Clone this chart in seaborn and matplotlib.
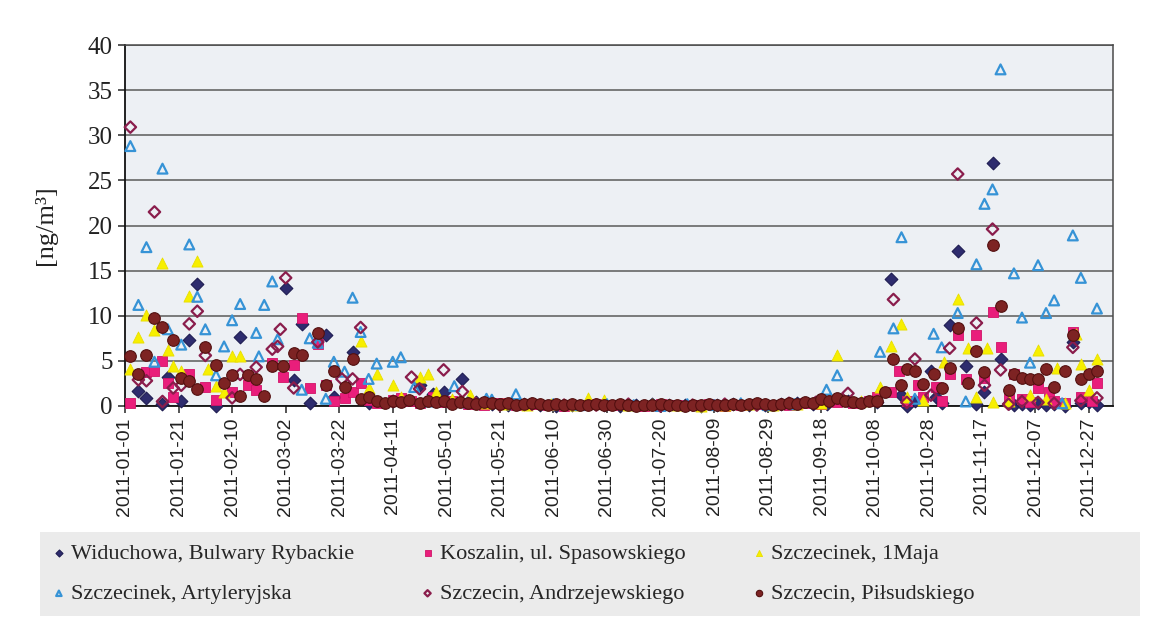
import numpy as np
import pandas as pd
import matplotlib
matplotlib.use("Agg")
import matplotlib.pyplot as plt
from matplotlib.patches import Rectangle
import seaborn as sns

sns.set_theme(style="white")
plt.rcParams["font.family"] = ["Liberation Serif", "DejaVu Serif"]

START = pd.Timestamp("2011-01-01")

# Day offsets from 2011-01-01 and concentrations [ng/m3] for each station
wid_day = [5, 8, 14, 16, 21, 24, 27, 34, 43, 60, 63, 66, 69, 75, 78, 85, 91, 100, 110, 115, 119, 126, 131,
           137, 143, 149, 155, 161, 167, 173, 179, 185, 191, 197, 203, 209, 215, 221, 227, 233, 239, 245, 251, 257,
           262, 270, 281, 286, 290, 292, 295, 301, 303, 305, 308, 311, 314, 318, 321, 324, 327, 330, 332, 335, 338,
           341, 344, 347, 351, 354, 357, 360, 363]
wid_val = [1.7, 0.9, 0.2, 3.2, 0.6, 7.3, 13.5, 0.0, 7.6, 13.1, 2.9, 9.1, 0.3, 7.9, 1.0, 6.0, 0.3, 0.5, 2.3, 1.3, 1.6, 3.0, 0.4,
           0.2, 0.1, 0.2, 0.1, 0.0, 0.1, 0.2, 0.1, 0.0, 0.1, 0.2, 0.1, 0.1, 0.0, 0.1, 0.2, 0.1, 0.1, 0.2, 0.3, 0.2,
           0.2, 0.5, 0.4, 14.1, 1.2, 0.0, 0.6, 3.9, 1.0, 0.3, 9.0, 17.2, 4.4, 0.2, 1.6, 26.9, 5.2, 0.3, 0.1, 0.2, 0.1,
           0.3, 0.1, 0.2, 0.0, 7.1, 0.3, 0.4, 0.1]

kos_day = [2, 8, 11, 14, 16, 18, 24, 30, 34, 40, 46, 49, 55, 59, 63, 66, 69, 72, 75, 78, 82, 85, 88, 91, 94, 100,
           103, 107, 110, 115, 119, 122,
           128, 134, 140, 146, 152, 158, 164, 170, 176, 182, 188, 194, 200, 206, 212, 218, 224, 230, 236, 242,
           248, 254, 260, 266, 272, 278,
           281, 286, 289, 292, 296, 298, 303, 305, 308, 311, 314, 318, 321, 324, 327, 330, 332, 335, 338, 341,
           345, 347, 351, 354, 357, 361, 363]
kos_val = [0.3, 3.8, 3.9, 5.0, 2.5, 1.0, 3.5, 2.1, 0.7, 1.5, 2.3, 1.8, 4.8, 3.2, 4.5, 9.8, 2.0, 6.9, 2.3, 0.5, 0.9, 1.5, 2.5, 0.7, 0.3, 0.7,
           0.9, 0.5, 0.3, 1.0, 0.4, 0.6,
           0.2, 0.1, 0.3, 0.1, 0.2, 0.1, 0.0, 0.1, 0.2, 0.1, 0.1, 0.0, 0.2, 0.1, 0.1, 0.2,
           0.0, 0.1, 0.2, 0.1, 0.1, 0.3, 0.2, 0.4, 0.3, 0.6,
           1.0, 1.6, 3.9, 0.5, 2.3, 1.0, 2.1, 0.6, 3.5, 7.9, 3.0, 7.9, 3.1, 10.4, 6.5, 0.8, 3.6, 0.8, 0.4, 2.0,
           1.6, 0.6, 0.3, 8.2, 1.0, 0.5, 2.6]

maj_day = [2, 5, 8, 11, 14, 16, 18, 21, 24, 27, 31, 34, 37, 40, 43, 88, 91, 94, 100, 103, 110, 113, 116, 122, 129, 135,
           141, 150, 159, 168, 173, 179, 188, 197, 206, 215, 224, 233, 242, 251, 260,
           266, 275, 282, 286, 290, 292, 298, 306, 311, 315, 318, 322, 324, 330, 338, 341, 344, 348, 351, 355,
           357, 360, 363]
maj_val = [4.1, 7.6, 10.1, 8.4, 15.8, 6.2, 4.4, 3.9, 12.2, 16.1, 4.1, 2.2, 1.6, 5.5, 5.5, 7.2, 2.0, 3.5, 2.3, 1.0, 3.2, 3.6, 1.5, 0.8, 1.2, 0.3,
           0.2, 0.1, 0.2, 0.1, 0.85, 0.7, 0.1, 0.2, 0.1, 0.0, 0.1, 0.2, 0.1, 0.2, 0.3,
           5.7, 0.6, 2.1, 6.6, 9.1, 1.0, 0.7, 4.9, 11.9, 6.4, 1.0, 6.4, 0.4, 0.5, 1.2, 6.2, 0.8, 4.2, 0.3, 8.0,
           4.7, 1.8, 5.2]

art_day = [2, 5, 8, 11, 14, 16, 21, 24, 27, 30, 34, 37, 40, 43, 49, 50, 52, 55, 57, 66, 69, 72, 75, 78, 82, 85, 88,
           91, 94, 100, 103, 108, 113, 123, 128, 135, 137, 146, 160,
           170, 180, 190, 200, 210, 220, 230, 240, 250,
           262, 266, 282, 287, 290, 295, 302, 305, 311, 314, 318, 321, 324, 327, 332, 335, 338, 341, 344, 347,
           350, 354, 357, 363]
art_val = [28.8, 11.2, 17.6, 4.9, 26.3, 8.5, 6.8, 17.9, 12.1, 8.5, 3.4, 6.6, 9.5, 11.3, 8.1, 5.5, 11.2, 13.8, 7.4, 1.8, 7.5, 7.0, 0.8, 4.9, 3.8, 12.0, 8.2,
           3.0, 4.7, 4.9, 5.4, 2.1, 0.5, 2.2, 0.4, 0.8, 0.7, 1.3, 0.2,
           0.1, 0.2, 0.1, 0.0, 0.2, 0.1, 0.3, 0.1, 0.2,
           1.8, 3.4, 6.0, 8.6, 18.7, 0.8, 8.0, 6.5, 10.3, 0.5, 15.7, 22.4, 24.0, 37.3, 14.7, 9.8, 4.8, 15.6, 10.3, 11.7,
           0.3, 18.9, 14.2, 10.8]

and_day = [2, 5, 8, 11, 14, 18, 21, 24, 27, 30, 40, 43, 49, 55, 57, 58, 60, 63, 72, 81, 85, 88, 100, 107, 110, 119, 126, 131,
           140, 152, 164, 176, 188, 200, 212, 224, 236, 248, 258,
           270, 287, 292, 295, 301, 308, 311, 318, 321, 324, 327, 330, 335, 341, 347, 354, 357, 363]
and_val = [30.9, 2.9, 2.8, 21.5, 0.5, 2.0, 2.3, 9.1, 10.5, 5.6, 0.9, 3.5, 4.3, 6.3, 6.6, 8.5, 14.2, 2.0, 7.1, 3.0, 3.0, 8.7, 0.5, 3.2, 1.9, 4.0, 1.6, 0.3,
           0.1, 0.2, 0.1, 0.1, 0.2, 0.0, 0.1, 0.2, 0.1, 0.3, 0.4,
           1.4, 11.8, 0.4, 5.2, 1.2, 6.4, 25.7, 9.2, 2.3, 19.6, 4.0, 0.2, 0.5, 0.4, 0.3, 6.5, 0.6, 0.9]

pil_day = [2, 5, 8, 11, 14, 18, 21, 24, 27, 30, 34, 37, 40, 43, 46, 49, 52, 55, 59, 63,
           66, 72, 75, 78, 82, 85, 88, 91, 94, 97, 100, 103, 106, 110, 113, 116, 119, 122, 125,
           128, 131, 134, 137, 140, 143, 146, 149, 152, 155, 158, 161, 164, 167, 170, 173, 176, 179,
           182, 185, 188, 191, 194, 197, 200, 203, 206, 209, 212, 215, 218, 221, 224, 227, 230, 233,
           236, 239, 242, 245, 248, 251, 254, 257, 260, 263, 266, 269, 272, 275, 278, 281,
           284, 287, 290, 292, 295, 298, 302, 305, 308, 311, 315, 318, 321, 324, 327, 330, 332, 335, 338, 341,
           344, 347, 351, 354, 357, 360, 363]
pil_val = [5.5, 3.5, 5.6, 9.8, 8.7, 7.3, 3.1, 2.8, 1.9, 6.5, 4.5, 2.5, 3.4, 1.1, 3.4, 3.0, 1.1, 4.4, 4.4, 5.9,
           5.6, 8.1, 2.3, 3.9, 2.1, 5.2, 0.8, 1.0, 0.5, 0.3, 0.6, 0.4, 0.7, 0.3, 0.5, 0.4, 0.6, 0.2, 0.4,
           0.3, 0.2, 0.4, 0.3, 0.2, 0.3, 0.1, 0.2, 0.3, 0.2, 0.1, 0.2, 0.1, 0.2, 0.1, 0.1, 0.2, 0.1,
           0.1, 0.2, 0.1, 0.0, 0.1, 0.1, 0.2, 0.1, 0.1, 0.0, 0.1, 0.1, 0.2, 0.1, 0.1, 0.2, 0.1, 0.2,
           0.3, 0.2, 0.1, 0.2, 0.3, 0.2, 0.4, 0.3, 0.8, 0.5, 0.9, 0.6, 0.4, 0.3, 0.5, 0.6,
           1.5, 5.2, 2.3, 4.1, 3.9, 2.4, 3.5, 2.0, 4.2, 8.6, 2.5, 6.1, 3.8, 17.8, 11.1, 1.8, 3.5, 3.1, 3.0, 3.0,
           4.1, 2.1, 3.9, 7.9, 3.0, 3.6, 3.9]

stations = ["Widuchowa, Bulwary Rybackie", "Koszalin, ul. Spasowskiego", "Szczecinek, 1Maja",
            "Szczecinek, Artyleryjska", "Szczecin, Andrzejewskiego", "Szczecin, Piłsudskiego"]

y_ticks = list(range(0, 45, 5))
x_tick_days = list(range(0, 361, 20))

styles = [
    dict(marker="D", s=42, color="#2e2c6e", edgecolor="#1f1d52", linewidth=0.8),
    dict(marker="s", s=52, color="#e91e7b", edgecolor="#d11468", linewidth=0.6),
    dict(marker="^", s=64, color="#f7ef00", edgecolor="#e8de00", linewidth=0.6),
    dict(marker="^", s=50, facecolor="none", edgecolor="#3693d6", linewidth=1.6),
    dict(marker="D", s=34, facecolor="none", edgecolor="#8a1d4c", linewidth=1.6),
    dict(marker="o", s=70, color="#7d2323", edgecolor="#531010", linewidth=0.8),
]
data = [(wid_day, wid_val), (kos_day, kos_val), (maj_day, maj_val),
        (art_day, art_val), (and_day, and_val), (pil_day, pil_val)]

fig = plt.figure(figsize=(11.56, 6.28), dpi=100)
fig.add_artist(Rectangle((40 / 1156, 1 - 616 / 628), 1100 / 1156, 84 / 628,
                         transform=fig.transFigure, facecolor="#ebebeb", edgecolor="none", zorder=0))

ax = fig.add_axes([125 / 1156, 1 - 406 / 628, (1113 - 125) / 1156, (406 - 45) / 628])
ax.set_facecolor("#edf0f4")

for name, (days, vals), st in zip(stations, data, styles):
    df = pd.DataFrame({"date": START + pd.to_timedelta(days, unit="D"), "value": vals})
    sns.scatterplot(data=df, x="date", y="value", ax=ax, label=name, zorder=3, clip_on=False, **st)

ax.set_ylim(0, 40)
ax.set_yticks(y_ticks)
ax.set_xlim(START, START + pd.Timedelta(days=369))
ticks = [START + pd.Timedelta(days=d) for d in x_tick_days]
ax.set_xticks(ticks)
ax.set_xticklabels([t.strftime("%Y-%m-%d") for t in ticks], rotation=90,
                   fontfamily="Liberation Sans", fontsize=14, color="#222222")
ax.tick_params(axis="y", labelsize=18, labelcolor="#222222", length=5, width=1.1,
               direction="out", left=True, pad=4)
ax.tick_params(axis="x", length=5, width=1.1, direction="out", bottom=True, pad=3)

ax.yaxis.grid(True, color="#5a5a5a", linewidth=1.1)
ax.xaxis.grid(False)
ax.set_axisbelow(True)
for side in ["left", "bottom"]:
    ax.spines[side].set_color("#111111")
    ax.spines[side].set_linewidth(1.3)
for side in ["top", "right"]:
    ax.spines[side].set_color("#4a4a4a")
    ax.spines[side].set_linewidth(1.1)

ax.set_xlabel("")
ax.set_ylabel("[ng/m³]", fontsize=19, color="#222222", labelpad=22)

handles, labels = ax.get_legend_handles_labels()
ax.get_legend().remove()
order = [0, 3, 1, 4, 2, 5]
fig.legend([handles[i] for i in order], [labels[i] for i in order], ncol=3,
           loc="upper left", bbox_to_anchor=(50 / 1156, 1 - 543 / 628), frameon=False,
           fontsize=16, markerscale=0.55, handletextpad=0.15, handlelength=0.8,
           columnspacing=2.9, labelspacing=0.9, borderaxespad=0, borderpad=0)

fig.savefig("out.png", dpi=100)
